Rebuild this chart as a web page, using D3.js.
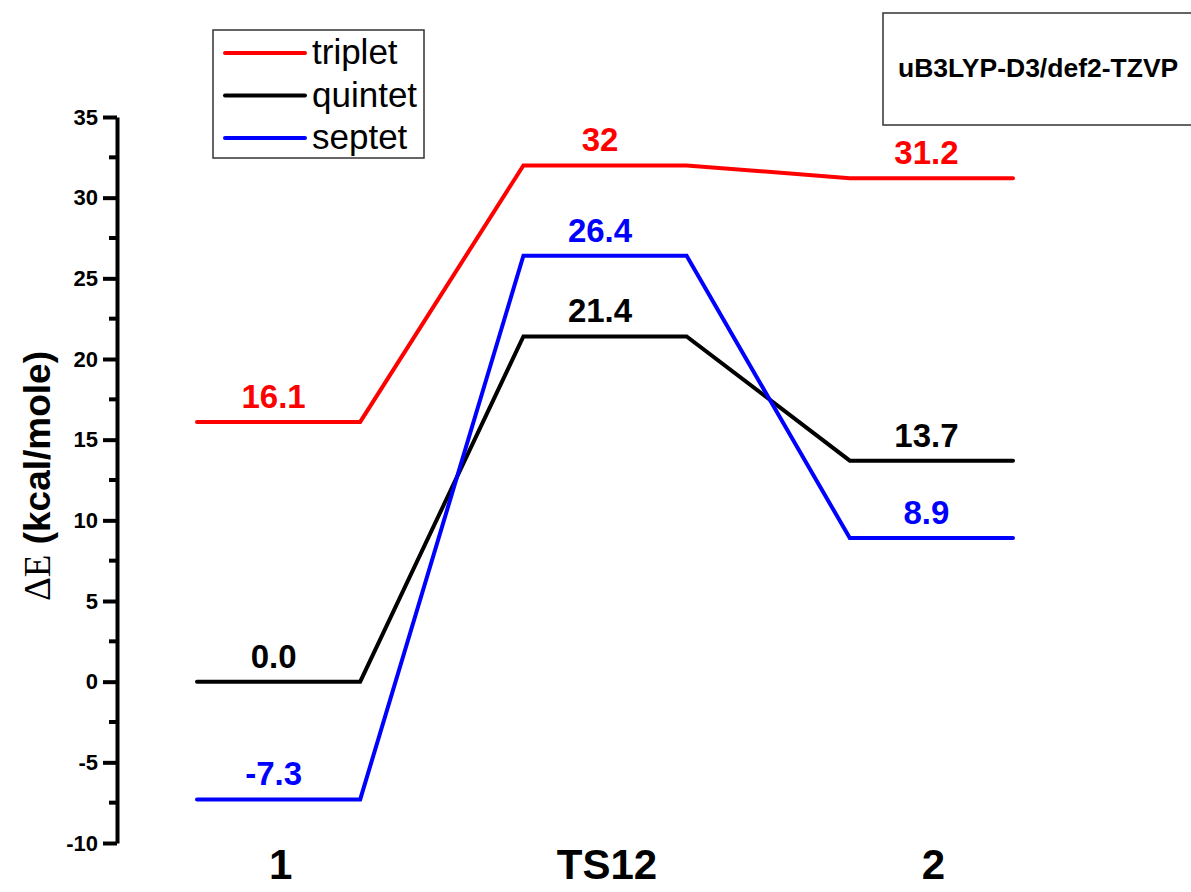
<!DOCTYPE html>
<html>
<head>
<meta charset="utf-8">
<script src="https://cdn.jsdelivr.net/npm/d3@7"></script>
<style>
    body { margin: 0; background: #fff; }
    text { font-family: Arial, "Liberation Sans", sans-serif; }
</style>
</head>
<body>
<div id="chart"></div>
<script>
    // energy levels (kcal/mole) for each stage
    const stages = ["1", "TS12", "2"];
    const seriesNames = ["triplet", "quintet", "septet"];
    const seriesColors = ["#ff0000", "#000000", "#0000ff"];
    const triplet = [16.1, 32, 31.2];
    const quintet = [0.0, 21.4, 13.7];
    const septet = [-7.3, 26.4, 8.9];
    const tripletLabels = ["16.1", "32", "31.2"];
    const quintetLabels = ["0.0", "21.4", "13.7"];
    const septetLabels = ["-7.3", "26.4", "8.9"];
    const yTicks = [-10, -5, 0, 5, 10, 15, 20, 25, 30, 35];
    const methodText = "uB3LYP-D3/def2-TZVP";

    const series = [
        {name: seriesNames[0], color: seriesColors[0], values: triplet, labels: tripletLabels},
        {name: seriesNames[1], color: seriesColors[1], values: quintet, labels: quintetLabels},
        {name: seriesNames[2], color: seriesColors[2], values: septet, labels: septetLabels}
    ];

    const width = 1191, height = 892;

    const svg = d3.select("#chart").append("svg")
        .attr("width", width)
        .attr("height", height);

    const y = d3.scaleLinear()
        .domain([-10, 35])
        .range([843, 117]);

    const x = d3.scaleBand()
        .domain(stages)
        .range([197, 1013])
        .paddingInner(0.5)
        .paddingOuter(0);

    // y axis, Origin style: thick line, ticks outside
    const yAxis = d3.axisLeft(y)
        .tickValues(yTicks)
        .tickFormat(function (d) { return String(d); })
        .tickSize(14)
        .tickSizeOuter(0)
        .tickPadding(5);

    const ax = svg.append("g")
        .attr("transform", "translate(117, 0)")
        .call(yAxis);
    ax.select(".domain").attr("stroke-width", 4);
    ax.selectAll(".tick line").attr("stroke-width", 4);
    ax.selectAll(".tick text")
        .attr("font-size", 22)
        .attr("font-weight", "bold")
        .attr("fill", "#000");

    // minor ticks
    const minor = d3.range(-7.5, 35, 5);
    ax.selectAll(".minor")
        .data(minor)
        .enter().append("line")
        .attr("class", "minor")
        .attr("x1", -8)
        .attr("x2", 0)
        .attr("y1", function (d) { return y(d); })
        .attr("y2", function (d) { return y(d); })
        .attr("stroke", "#000")
        .attr("stroke-width", 4);

    // y title
    const title = svg.append("text")
        .attr("transform", "translate(50, 476) rotate(-90)")
        .attr("text-anchor", "middle")
        .attr("font-size", 37)
        .attr("font-weight", "bold");
    title.append("tspan")
        .attr("font-family", "'Liberation Serif', 'Times New Roman', serif")
        .attr("font-weight", "normal")
        .text("ΔE");
    title.append("tspan").text(" (kcal/mole)");

    // stage labels
    svg.selectAll(".stage")
        .data(stages)
        .enter().append("text")
        .attr("class", "stage")
        .attr("x", function (d) { return x(d) + x.bandwidth() / 2 + 2; })
        .attr("y", 879)
        .attr("text-anchor", "middle")
        .attr("font-size", 42)
        .attr("font-weight", "bold")
        .text(function (d) { return d; });

    // each level is a flat segment across its band, joined to the next one
    function levelPoints(values) {
        const pts = [];
        stages.forEach(function (s, i) {
            pts.push([x(s), y(values[i])]);
            pts.push([x(s) + x.bandwidth(), y(values[i])]);
        });
        return pts;
    }

    const line = d3.line();

    const drawOrder = [series[1], series[2], series[0]];
    drawOrder.forEach(function (s) {
        svg.append("path")
            .attr("d", line(levelPoints(s.values)))
            .attr("fill", "none")
            .attr("stroke", s.color)
            .attr("stroke-width", 4)
            .attr("stroke-linecap", "round")
            .attr("stroke-linejoin", "miter");
    });

    series.forEach(function (s) {
        svg.selectAll(null)
            .data(stages)
            .enter().append("text")
            .attr("x", function (d) { return x(d) + x.bandwidth() / 2 - 5; })
            .attr("y", function (d, i) { return y(s.values[i]) - 14; })
            .attr("text-anchor", "middle")
            .attr("font-size", 33)
            .attr("font-weight", "bold")
            .attr("fill", s.color)
            .text(function (d, i) { return s.labels[i]; });
    });

    // legend
    const legend = svg.append("g").attr("transform", "translate(213, 30)");
    legend.append("rect")
        .attr("width", 211)
        .attr("height", 128)
        .attr("fill", "#fff")
        .attr("stroke", "#333")
        .attr("stroke-width", 1.5);
    const item = legend.selectAll(".item")
        .data(series)
        .enter().append("g")
        .attr("class", "item")
        .attr("transform", function (d, i) { return "translate(0," + (23 + i * 42.5) + ")"; });
    item.append("line")
        .attr("x1", 12)
        .attr("x2", 92)
        .attr("stroke", function (d) { return d.color; })
        .attr("stroke-width", 4)
        .attr("stroke-linecap", "round");
    item.append("text")
        .attr("x", 99)
        .attr("y", 11)
        .attr("font-size", 35)
        .text(function (d) { return d.name; });

    // method box
    const box = svg.append("g").attr("transform", "translate(883, 13)");
    box.append("rect")
        .attr("width", 320)
        .attr("height", 112)
        .attr("fill", "#fff")
        .attr("stroke", "#333")
        .attr("stroke-width", 1.5);
    box.append("text")
        .attr("x", 15)
        .attr("y", 64)
        .attr("font-size", 26.5)
        .attr("font-weight", "bold")
        .text(methodText);
</script>
</body>
</html>
